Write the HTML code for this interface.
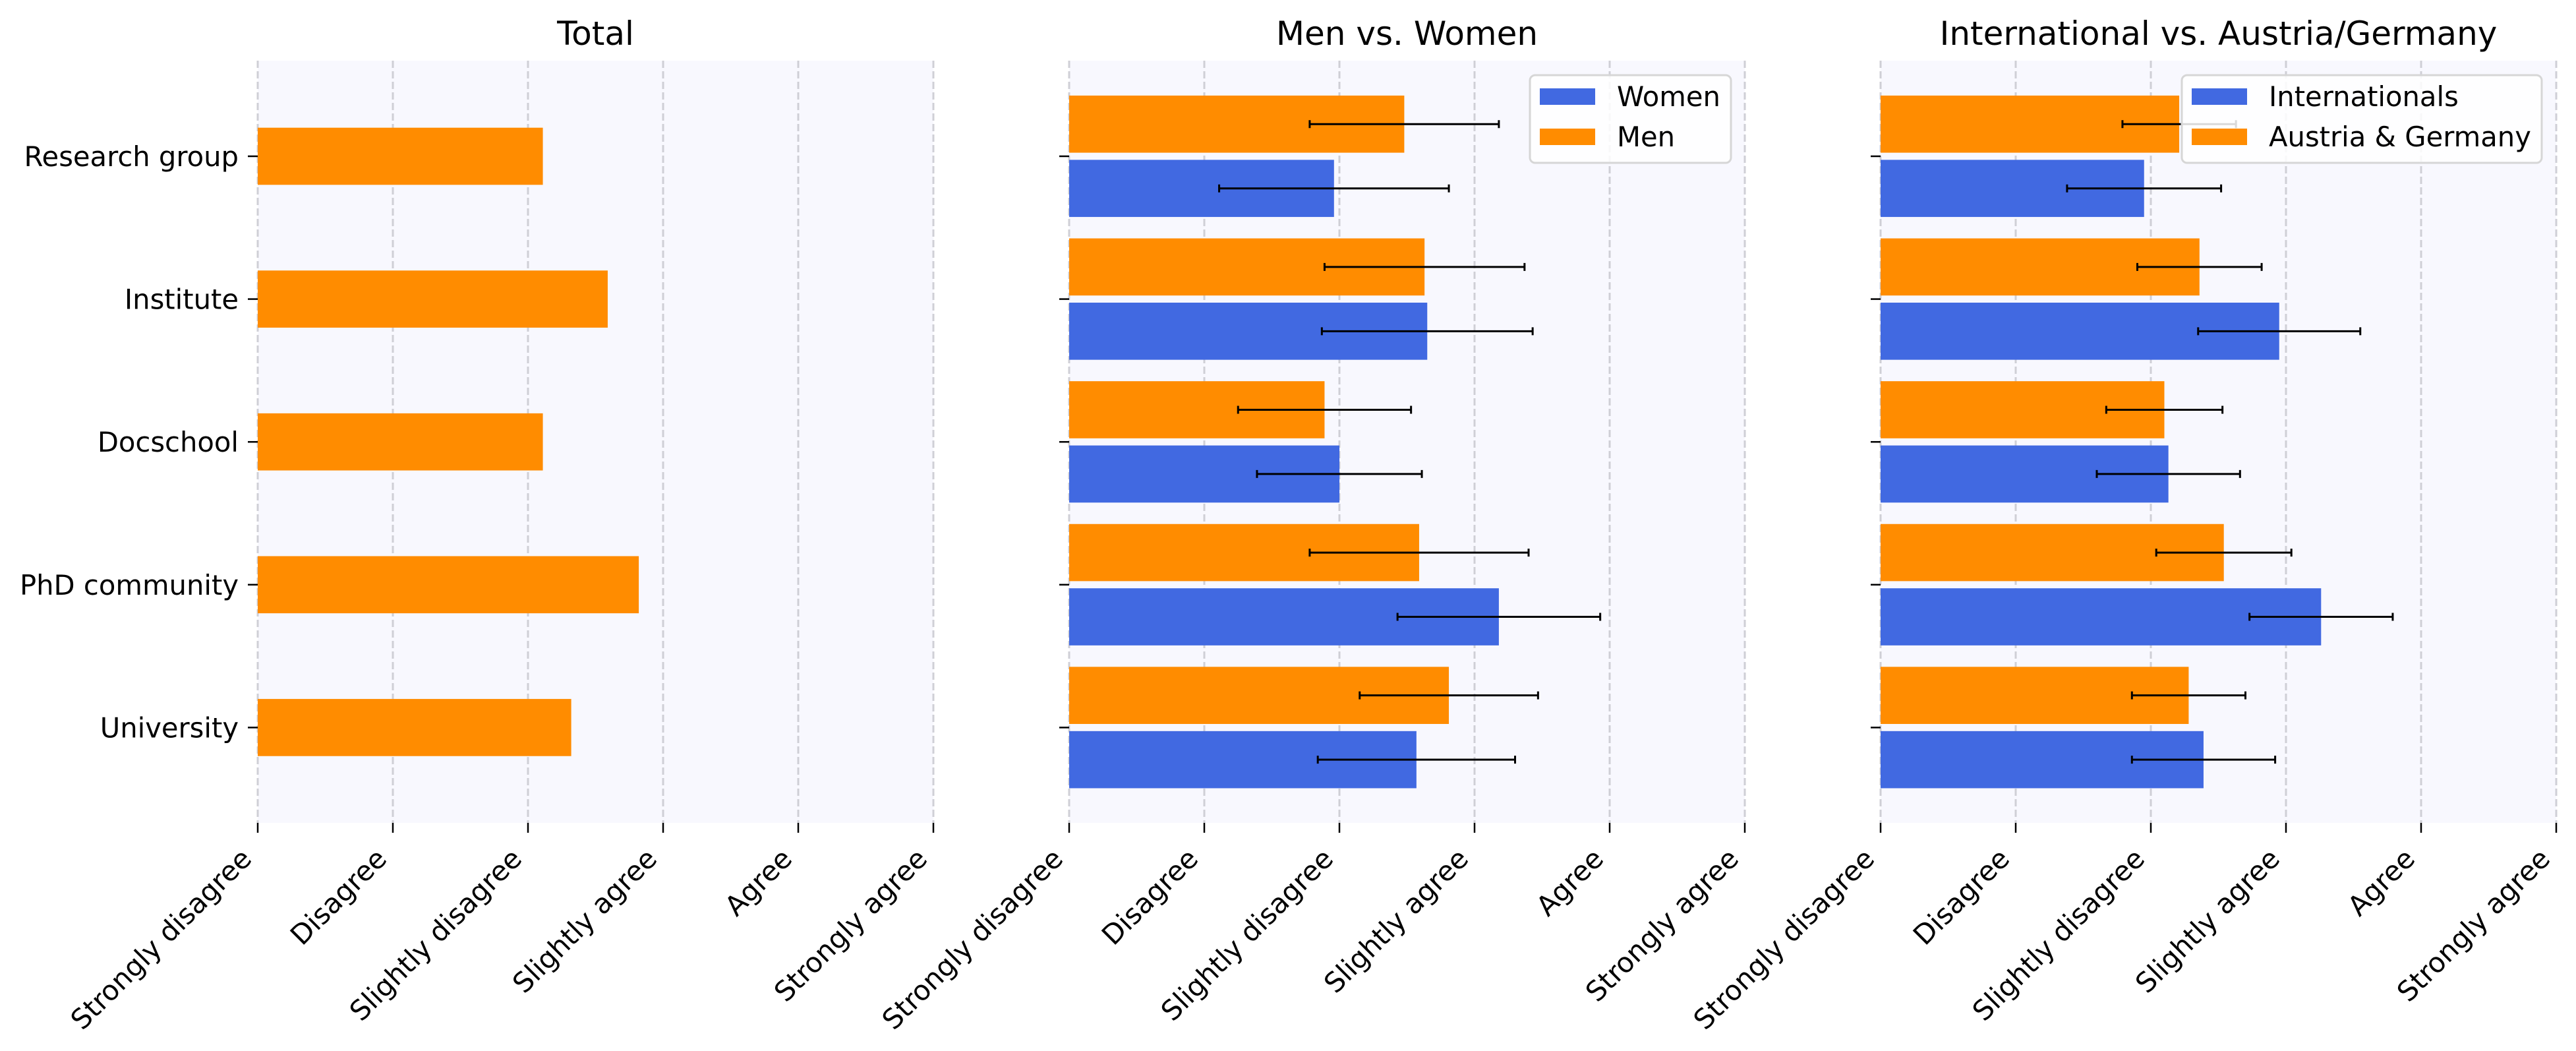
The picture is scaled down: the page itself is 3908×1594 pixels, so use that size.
<!DOCTYPE html>
<html><head><meta charset="utf-8"><style>
html,body{margin:0;padding:0;background:#fff;}
svg{display:block;font-family:"DejaVu Sans","Liberation Sans",sans-serif;}
</style></head><body>
<svg id="chart" width="3908" height="1594" viewBox="0 0 3908 1594" xmlns="http://www.w3.org/2000/svg"></svg>
<script>
const categories = ["Research group","Institute","Docschool","PhD community","University"];
const xTickLabels = ["Strongly disagree","Disagree","Slightly disagree","Slightly agree","Agree","Strongly agree"];
const totalValues = [2.11,2.59,2.11,2.82,2.32];
const menValues = [2.48,2.63,1.89,2.59,2.81];
const menErr = [0.70,0.74,0.64,0.81,0.66];
const womenValues = [1.96,2.65,2.00,3.18,2.57];
const womenErr = [0.85,0.78,0.61,0.75,0.73];
const agValues = [2.21,2.36,2.10,2.54,2.28];
const agErr = [0.42,0.46,0.43,0.50,0.42];
const intlValues = [1.95,2.95,2.13,3.26,2.39];
const intlErr = [0.57,0.60,0.53,0.53,0.53];

const NS = "http://www.w3.org/2000/svg";
const svg = document.getElementById('chart');
function mk(tag, attrs, parent){
  const e = document.createElementNS(NS, tag);
  for (const k in attrs) e.setAttribute(k, attrs[k]);
  (parent||svg).appendChild(e);
  return e;
}
const TOP = 92, BOTTOM = 1248;
const FS = 41.7, TFS = 50;
function yScale(i){ return 237 + i*216.6; }
const ORANGE = "#ff8c00", BLUE = "#4169e1";
const BAR_H = 0.4*216.6;

function panel(left, title, name, yLabels){
  const right = left + 1025;
  const xs = v => left + v*205;
  const g = mk('g', {});
  
  
  const bg = mk('rect', {x:left, y:TOP, width:1025, height:BOTTOM-TOP, fill:"#f8f8fe"}, g);
  
  
  xTickLabels.forEach((lab, k) => {
    const x = xs(k);
    const gl = mk('line', {x1:x, x2:x, y1:TOP, y2:BOTTOM, stroke:"#cfcfd6", "stroke-width":3, "stroke-dasharray":"11,5"}, g);
    
    
    const tk = mk('line', {x1:x, x2:x, y1:BOTTOM, y2:BOTTOM+15, stroke:"#000", "stroke-width":2.5}, g);
    
    
    const t = mk('text', {x:0, y:0, "text-anchor":"end", "font-size":FS, fill:"#000",
      transform:`translate(${x-7},${BOTTOM+57}) rotate(-45)`}, g);
    t.textContent = lab;
    
    
  });
  categories.forEach((c, i) => {
    const y = yScale(i);
    const tk = mk('line', {x1:left-15, x2:left, y1:y, y2:y, stroke:"#000", "stroke-width":2.5}, g);
    
    
    if (yLabels){
      const t = mk('text', {x:left-29, y:y+15, "text-anchor":"end", "font-size":FS, fill:"#000"}, g);
      t.textContent = c;
      
      
    }
  });
  const tt = mk('text', {x:(left+right)/2, y:68, "text-anchor":"middle", "font-size":TFS, fill:"#000"}, g);
  tt.textContent = title;
  
  
  return {g, xs};
}

function bar(p, v, yc, color, name){
  const r = mk('rect', {x:p.xs(0), y:yc-BAR_H/2, width:p.xs(v)-p.xs(0), height:BAR_H, fill:color}, p.g);
  
  
}
function err(p, v, e, yc){
  const x1 = p.xs(v-e), x2 = p.xs(v+e);
  const l = mk('path', {d:`M${x1},${yc}H${x2}M${x1},${yc-6}V${yc+6}M${x2},${yc-6}V${yc+6}`, stroke:"#000", "stroke-width":3, fill:"none"}, p.g);
  
  
}
function legend(p, x0, x1, labels){
  const box = mk('rect', {x:x0, y:114, width:x1-x0, height:133, rx:8, fill:"#fff", "fill-opacity":0.85, stroke:"#d6d6d6", "stroke-width":3}, p.g);
  
  
  labels.forEach((l, k) => {
    const cy = 146 + k*61;
    const sw = mk('rect', {x:x0+15, y:cy-12, width:84, height:25, fill:l[1]}, p.g);
    
    
    const t = mk('text', {x:x0+132, y:cy+15, "font-size":FS, fill:"#000"}, p.g);
    t.textContent = l[0];
    
    
  });
}

const OFF = 0.225*216.6;
const p1 = panel(391, "Total", "total-panel", true);
categories.forEach((c,i)=> bar(p1, totalValues[i], yScale(i), ORANGE, 'bar-total'));

const p2 = panel(1622, "Men vs. Women", "gender-panel", false);
categories.forEach((c,i)=>{
  bar(p2, menValues[i], yScale(i)-OFF, ORANGE, 'bar-men');
  bar(p2, womenValues[i], yScale(i)+OFF, BLUE, 'bar-women');
});
categories.forEach((c,i)=>{
  err(p2, menValues[i], menErr[i], yScale(i)-OFF);
  err(p2, womenValues[i], womenErr[i], yScale(i)+OFF);
});
legend(p2, 2321, 2626, [["Women",BLUE],["Men",ORANGE]]);

const p3 = panel(2853, "International vs. Austria/Germany", "origin-panel", false);
categories.forEach((c,i)=>{
  bar(p3, agValues[i], yScale(i)-OFF, ORANGE, 'bar-austria-germany');
  bar(p3, intlValues[i], yScale(i)+OFF, BLUE, 'bar-internationals');
});
categories.forEach((c,i)=>{
  err(p3, agValues[i], agErr[i], yScale(i)-OFF);
  err(p3, intlValues[i], intlErr[i], yScale(i)+OFF);
});
legend(p3, 3310, 3856, [["Internationals",BLUE],["Austria & Germany",ORANGE]]);
</script>
</body></html>
